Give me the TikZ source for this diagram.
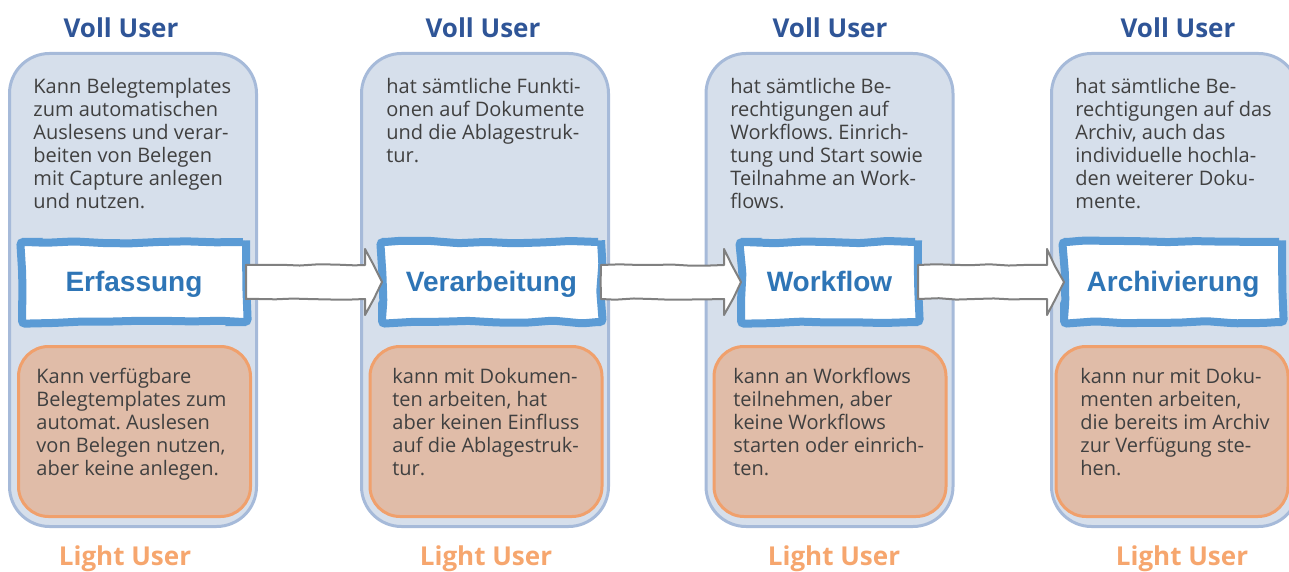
\documentclass[tikz,border=0pt]{standalone}
\usepackage{fontspec}
\setmainfont{Open Sans}
\newfontfamily\labelfont{Liberation Sans}
\usetikzlibrary{calc,decorations.pathmorphing}
\frenchspacing
\definecolor{colfill}{RGB}{214,223,235}
\definecolor{colline}{RGB}{166,186,217}
\definecolor{lightfill}{RGB}{224,188,168}
\definecolor{lightline}{RGB}{240,160,108}
\definecolor{vollblue}{RGB}{47,85,151}
\definecolor{lightorange}{RGB}{246,166,110}
\definecolor{stageblue}{RGB}{91,155,213}
\definecolor{stagetext}{RGB}{46,117,182}
\definecolor{bodygrey}{RGB}{64,64,64}
\definecolor{arrowgrey}{RGB}{128,128,128}

\tikzset{
  column/.style={draw=colline, fill=colfill, line width=1.5pt, rounded corners=20pt,
    minimum width=123.5pt, minimum height=236.5pt, inner sep=0pt},
  lightbox/.style={draw=lightline, fill=lightfill, line width=1.5pt, rounded corners=15pt,
    minimum width=116pt, minimum height=85pt, inner sep=0pt},
  stage/.style={draw=stageblue, fill=white, line width=4pt, minimum height=40pt,
    text height=10pt, text depth=0pt,
    decorate, decoration={random steps, segment length=14pt, amplitude=0.7pt},
    rounded corners=1.5pt, text=stagetext, font=\labelfont\bfseries\fontsize{14}{16}\selectfont},
  body/.style={font=\fontsize{10}{11.5}\selectfont, text=bodygrey, align=left,
    inner sep=0pt, anchor=north west},
  voll/.style={font=\bfseries\fontsize{13}{15}\selectfont, text=vollblue, anchor=base},
  light/.style={font=\bfseries\fontsize{13}{15}\selectfont, text=lightorange, anchor=base},
  fatarr/.style={draw=arrowgrey, fill=white, line width=1pt, line join=round,
    decorate, decoration={random steps, segment length=9pt, amplitude=0.4pt}}
}

% fat hand-drawn arrow from one stage box to the next
\newcommand\fatarrow[2]{%
  \draw[fatarr] ($(#1.east)+(-4,-17)$) -- ($(#2.west)+(-13,-17)$) -- ($(#2.west)+(-13,-33)$)
    -- ($(#2.west)+(4,0)$) -- ($(#2.west)+(-13,33)$) -- ($(#2.west)+(-13,17)$)
    -- ($(#1.east)+(-4,17)$) -- cycle;}

\begin{document}
\begin{tikzpicture}[x=0.5pt, y=-0.5pt]
  \pgfmathsetseed{7}
  \useasboundingbox (0,0) rectangle (1289,572);
  \clip (0,0) rectangle (1289,572);

  % columns
  \node[column] (col1) at (133,290) {};
  \node[column] (col2) at (485,290) {};
  \node[column] (col3) at (829.5,290) {};
  \node[column] (col4) at (1175,290) {};

  \node[voll] (voll1) at (121,38) {Voll User};
  \node[voll] (voll2) at (483,38) {Voll User};
  \node[voll] (voll3) at (830,38) {Voll User};
  \node[voll] (voll4) at (1178,38) {Voll User};

  \node[light] (light1) at (125,565) {Light User};
  \node[light] (light2) at (486,565) {Light User};
  \node[light] (light3) at (834,565) {Light User};
  \node[light] (light4) at (1182,565) {Light User};

  % voll user texts
  \node[body] (vt1) at (33,78) {Kann Belegtemplates\\zum automatischen\\Auslesens und verar-\\beiten von Belegen\\mit Capture anlegen\\und nutzen.};
  \node[body] (vt2) at (386,78) {hat sämtliche Funkti-\\onen auf Dokumente\\und die Ablagestruk-\\tur.};
  \node[body] (vt3) at (730,78) {hat sämtliche Be-\\rechtigungen auf\\Workflows. Einrich-\\tung und Start sowie\\Teilnahme an Work-\\flows.};
  \node[body] (vt4) at (1075,78) {hat sämtliche Be-\\rechtigungen auf das\\Archiv, auch das\\individuelle hochla-\\den weiterer Doku-\\mente.};

  % light user boxes
  \node[lightbox] (lb1) at (134.5,431.5) {};
  \node[lightbox] (lb2) at (486,431.5) {};
  \node[lightbox] (lb3) at (830,431.5) {};
  \node[lightbox] (lb4) at (1172,431.5) {};

  \node[body] (lt1) at (36,368) {Kann verfügbare\\Belegtemplates zum\\automat. Auslesen\\von Belegen nutzen,\\aber keine anlegen.};
  \node[body] (lt2) at (392,368) {kann mit Dokumen-\\ten arbeiten, hat\\aber keinen Einfluss\\auf die Ablagestruk-\\tur.};
  \node[body] (lt3) at (733,368) {kann an Workflows\\teilnehmen, aber\\keine Workflows\\starten oder einrich-\\ten.};
  \node[body] (lt4) at (1080,368) {kann nur mit Doku-\\menten arbeiten,\\die bereits im Archiv\\zur Verfügung ste-\\hen.};

  % stages
  \node[stage, minimum width=112pt] (erf) at (134,282) {Erfassung};
  \node[stage, minimum width=109.5pt] (verarb) at (491.5,282) {Verarbeitung};
  \node[stage, minimum width=88.5pt] (wf) at (829.5,282) {Workflow};
  \node[stage, minimum width=109pt] (arch) at (1173,282) {Archivierung};

  \fatarrow{erf}{verarb}
  \fatarrow{verarb}{wf}
  \fatarrow{wf}{arch}
\end{tikzpicture}
\end{document}
